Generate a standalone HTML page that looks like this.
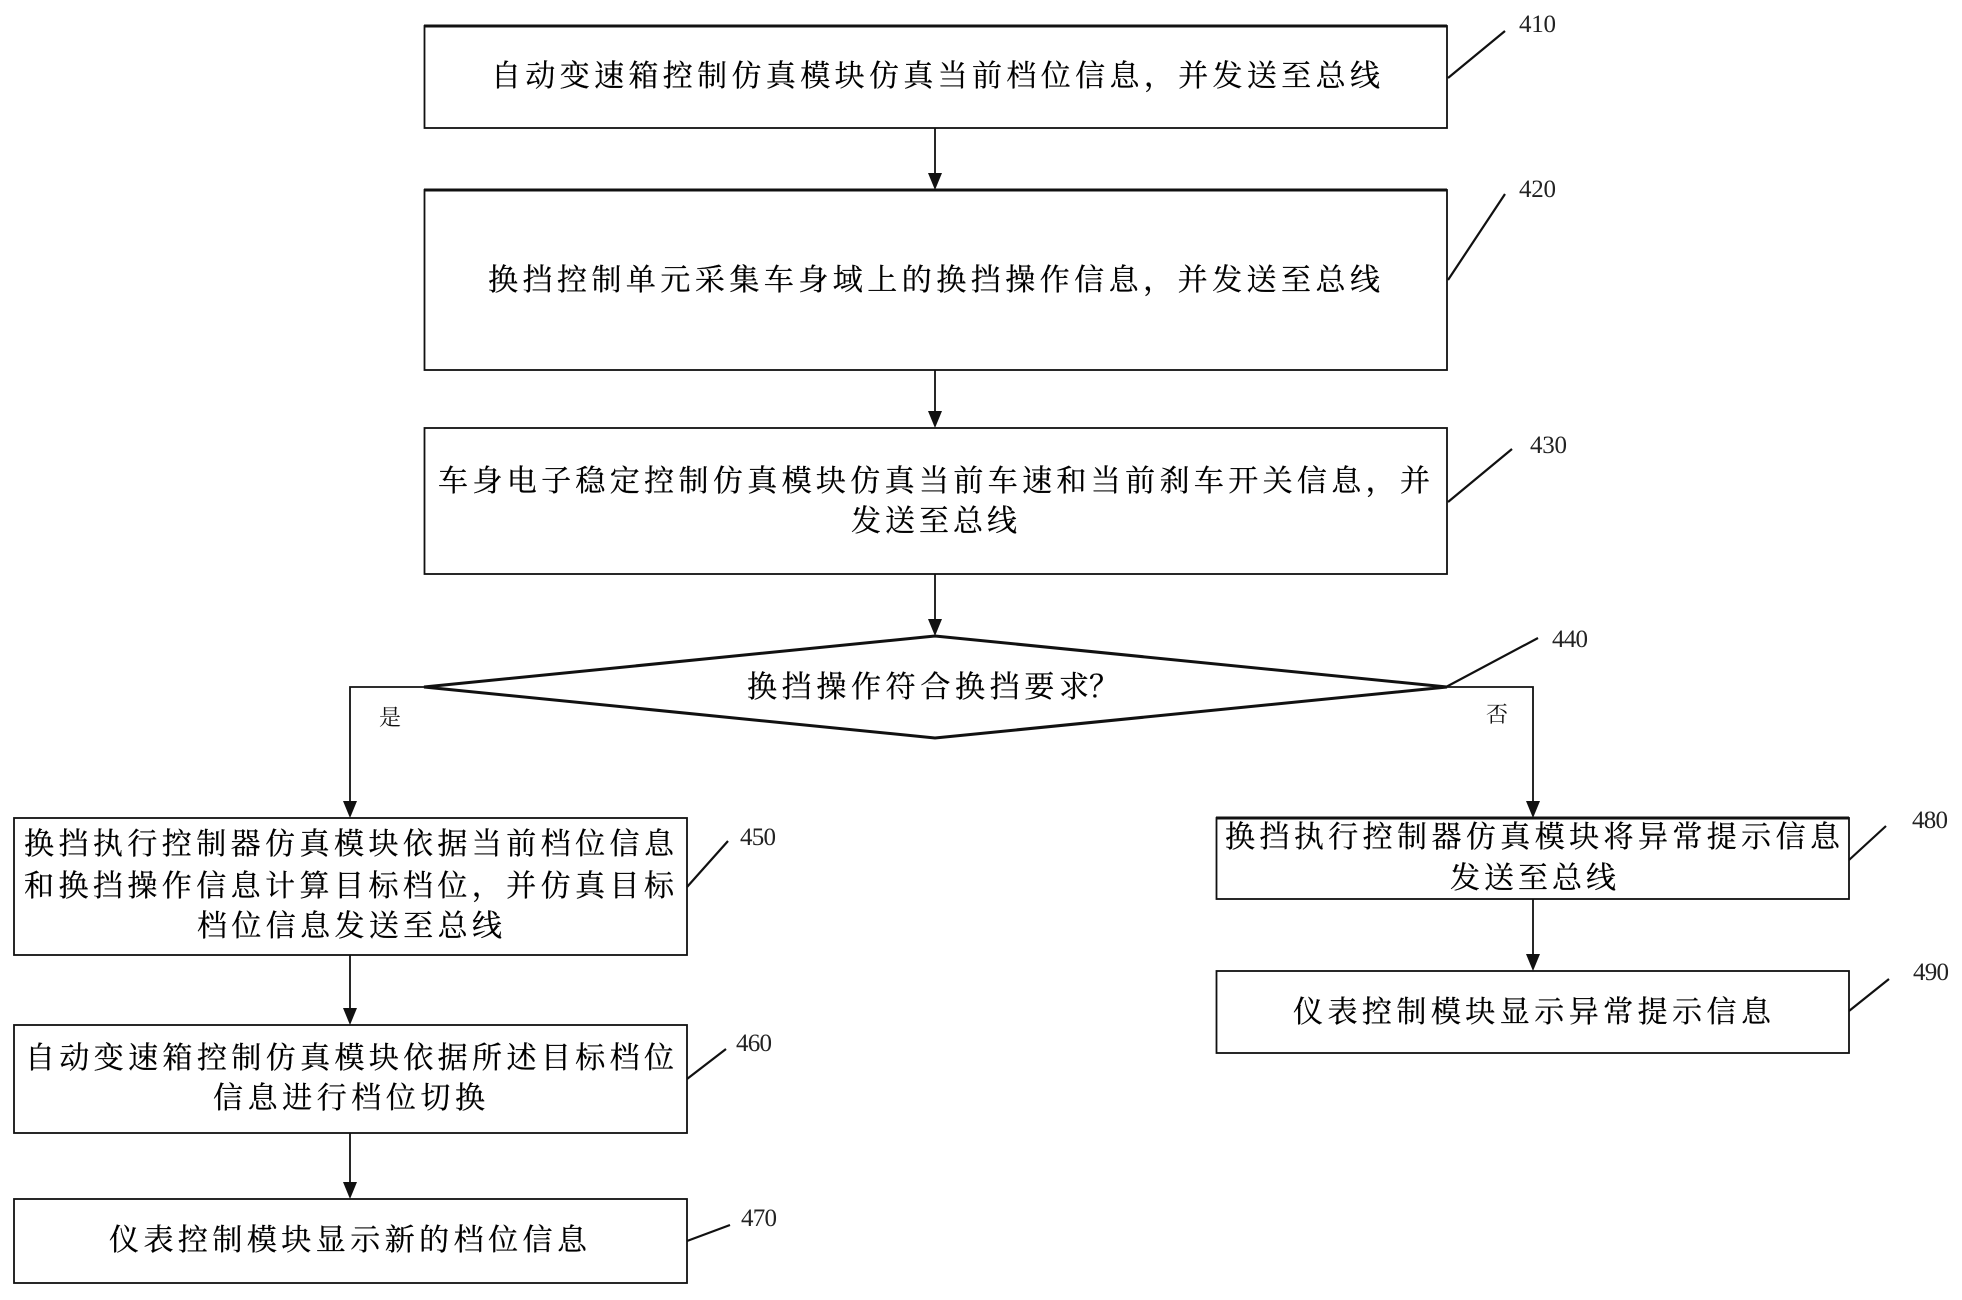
<!DOCTYPE html>
<html lang="zh">
<head>
<meta charset="utf-8">
<title>Flowchart</title>
<style>
html,body{margin:0;padding:0;background:#fff;width:1962px;height:1300px;overflow:hidden}
svg{display:block}
.t{font-family:"Liberation Serif","Noto Serif CJK SC",serif;font-size:30px;fill:#000;stroke:#000;stroke-width:.25}
.n{font-family:"Liberation Serif",serif;font-size:25px;fill:#222}
.s{font-family:"Liberation Serif","Noto Serif CJK SC",serif;font-size:22px;fill:#111}
.b{fill:#fff;stroke:#111;stroke-width:1.8}
.c{fill:none;stroke:#111;stroke-width:1.8}
.l{stroke:#111;stroke-width:2.2;fill:none}
</style>
</head>
<body>
<svg xmlns="http://www.w3.org/2000/svg" width="1962" height="1300" viewBox="0 0 1962 1300">
<rect width="1962" height="1300" fill="#fff"/>

<!-- boxes -->
<rect class="b" x="424.5" y="26" width="1022.5" height="102"/>
<path d="M424 26H1447" stroke="#111" stroke-width="3" fill="none"/>
<rect class="b" x="424.5" y="190" width="1022.5" height="180"/>
<path d="M424 190H1447" stroke="#111" stroke-width="3" fill="none"/>
<rect class="b" x="424.5" y="428" width="1022.5" height="146"/>
<polygon points="935,636 1447,687 935,738 424,687" fill="#fff" stroke="#111" stroke-width="3"/>
<rect class="b" x="14" y="818" width="673" height="137" stroke-width="2.4"/>
<rect class="b" x="14" y="1025" width="673" height="108"/>
<rect class="b" x="14" y="1199" width="673" height="84"/>
<rect class="b" x="1216.5" y="818" width="632.5" height="81"/>
<path d="M1216 818H1849" stroke="#111" stroke-width="3" fill="none"/>
<rect class="b" x="1216.5" y="971" width="632.5" height="82"/>

<!-- connectors -->
<path class="c" d="M935 128V176M935 370V414M935 574V622"/>
<path class="c" d="M424 687H350V804M350 955V1011M350 1133V1185"/>
<path class="c" d="M1447 687H1533V804M1533 899V957"/>
<g fill="#111">
<polygon points="935,190 928,173 942,173"/>
<polygon points="935,428 928,411 942,411"/>
<polygon points="935,636 928,619 942,619"/>
<polygon points="350,818 343,801 357,801"/>
<polygon points="350,1025 343,1008 357,1008"/>
<polygon points="350,1199 343,1182 357,1182"/>
<polygon points="1533,818 1526,801 1540,801"/>
<polygon points="1533,971 1526,954 1540,954"/>
</g>

<!-- leaders -->
<path class="l" d="M1448 78L1505 31M1448 280L1505 194M1448 502L1512 449M1446 687L1538 638M687 887L728 841M687 1079L726 1049M687 1241L730 1225M1849 860L1886 826M1849 1011L1889 979"/>

<!-- node text -->
<text class="t" x="491" y="86" textLength="889">自动变速箱控制仿真模块仿真当前档位信息，并发送至总线</text>
<text class="t" x="488" y="290" textLength="892">换挡控制单元采集车身域上的换挡操作信息，并发送至总线</text>
<text class="t" x="438" y="491" textLength="992">车身电子稳定控制仿真模块仿真当前车速和当前刹车开关信息，并</text>
<text class="t" x="851" y="531" textLength="166">发送至总线</text>
<text class="t" x="747" y="697" textLength="342">换挡操作符合换挡要求</text>
<text class="t" x="1089" y="697">？</text>
<text class="t" x="24" y="854" textLength="650">换挡执行控制器仿真模块依据当前档位信息</text>
<text class="t" x="24" y="896" textLength="650">和换挡操作信息计算目标档位，并仿真目标</text>
<text class="t" x="197" y="936" textLength="305">档位信息发送至总线</text>
<text class="t" x="25" y="1068" textLength="649">自动变速箱控制仿真模块依据所述目标档位</text>
<text class="t" x="213" y="1108" textLength="272">信息进行档位切换</text>
<text class="t" x="109" y="1250" textLength="478">仪表控制模块显示新的档位信息</text>
<text class="t" x="1225" y="847" textLength="615">换挡执行控制器仿真模块将异常提示信息</text>
<text class="t" x="1450" y="888" textLength="166">发送至总线</text>
<text class="t" x="1293" y="1022" textLength="478">仪表控制模块显示异常提示信息</text>

<text class="s" x="379" y="725">是</text>
<text class="s" x="1486" y="722">否</text>

<!-- reference numerals -->
<text class="n" x="1519" y="32" textLength="37">410</text>
<text class="n" x="1519" y="197" textLength="37">420</text>
<text class="n" x="1530" y="453" textLength="37">430</text>
<text class="n" x="1552" y="647" textLength="36">440</text>
<text class="n" x="740" y="845" textLength="36">450</text>
<text class="n" x="736" y="1051" textLength="36">460</text>
<text class="n" x="741" y="1226" textLength="36">470</text>
<text class="n" x="1912" y="828" textLength="36">480</text>
<text class="n" x="1913" y="980" textLength="36">490</text>
</svg>
</body>
</html>
